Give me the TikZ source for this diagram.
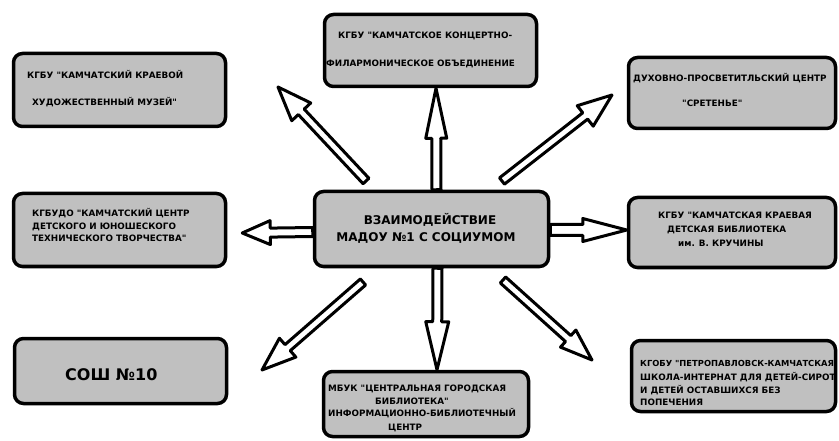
\documentclass[tikz,border=0pt]{standalone}
\usepackage{fontspec}
\newfontfamily\lsans{DejaVu Sans}
\usetikzlibrary{calc}
\definecolor{boxgray}{RGB}{192,192,192}
\tikzset{
  box/.style={draw=black, line width=3.5pt, fill=boxgray, rounded corners=9pt, inner sep=0pt},
  txt/.style={inner sep=0pt, anchor=west, text height=6.4pt, text depth=0pt, font=\lsans\bfseries\fontsize{8.8}{10}\selectfont},
  bigtxt/.style={inner sep=0pt, text height=8.8pt, text depth=0pt, font=\lsans\bfseries\fontsize{12}{14}\selectfont},
  hugetxt/.style={inner sep=0pt, anchor=west, text height=11.7pt, text depth=0pt, font=\lsans\bfseries\fontsize{16}{18}\selectfont},
  arrowline/.style={draw=black, fill=white, line width=3pt, line join=round},
}
% #1 shaft half width, #2 head half width, #3 head length, #4 from, #5 to
\newcommand\blockarrow[5]{%
  \draw[arrowline] let \p1=#4, \p2=#5, \n1={atan2(\y2-\y1,\x2-\x1)}, \n2={veclen(\x2-\x1,\y2-\y1)} in
    ($(\p1)+(\n1+90:#1)$) -- ($(\p1)+(\n1:\n2-#3)+(\n1+90:#1)$) -- ($(\p1)+(\n1:\n2-#3)+(\n1+90:#2)$)
    -- (\p2) -- ($(\p1)+(\n1:\n2-#3)+(\n1-90:#2)$) -- ($(\p1)+(\n1:\n2-#3)+(\n1-90:#1)$)
    -- ($(\p1)+(\n1-90:#1)$) -- cycle;
}
\begin{document}
\begin{tikzpicture}[x=1pt,y=1pt]
\fill[white] (0,0) rectangle (839,-441);
\useasboundingbox (0,0) rectangle (839,-441);

% boxes
\node[box, minimum width=212pt, minimum height=73pt] (b1) at (119.5,-90) {};
\node[box, minimum width=212pt, minimum height=72pt] (b2) at (430.5,-50.5) {};
\node[box, minimum width=207pt, minimum height=71pt] (b3) at (732,-93) {};
\node[box, minimum width=212pt, minimum height=73pt] (b4) at (119.5,-230) {};
\node[box, minimum width=234pt, minimum height=75pt] (c) at (431.5,-229) {};
\node[box, minimum width=207pt, minimum height=70pt] (b6) at (732,-232.5) {};
\node[box, minimum width=212pt, minimum height=65pt] (b5) at (120.5,-371) {};
\node[box, minimum width=205pt, minimum height=65pt] (b7) at (426,-404) {};
\node[box, minimum width=204pt, minimum height=71pt] (b8) at (733.5,-376) {};

% texts
\node[txt] (b1a) at (27,-75) {КГБУ "КАМЧАТСКИЙ КРАЕВОЙ};
\node[txt] (b1b) at (32,-102) {ХУДОЖЕСТВЕННЫЙ МУЗЕЙ"};

\node[txt] (b2a) at (338,-35) {КГБУ "КАМЧАТСКОЕ КОНЦЕРТНО-};
\node[txt] (b2b) at (326,-63) {ФИЛАРМОНИЧЕСКОЕ ОБЪЕДИНЕНИЕ};

\node[txt] (b3a) at (633,-78) {ДУХОВНО-ПРОСВЕТИТЛЬСКИЙ ЦЕНТР};
\node[txt] (b3b) at (682,-103) {"СРЕТЕНЬЕ"};

\node[txt] (b4a) at (32,-213) {КГБУДО "КАМЧАТСКИЙ ЦЕНТР};
\node[txt] (b4b) at (32,-226) {ДЕТСКОГО И ЮНОШЕСКОГО};
\node[txt] (b4c) at (32,-238.5) {ТЕХНИЧЕСКОГО ТВОРЧЕСТВА"};

\node[bigtxt] (ca) at (430,-220) {ВЗАИМОДЕЙСТВИЕ};
\node[bigtxt] (cb) at (426,-237.5) {МАДОУ №1 С СОЦИУМОМ};

\node[txt] (b6a) at (658,-215) {КГБУ "КАМЧАТСКАЯ КРАЕВАЯ};
\node[txt] (b6b) at (667,-229) {ДЕТСКАЯ БИБЛИОТЕКА};
\node[txt] (b6c) at (678,-243) {им. В. КРУЧИНЫ};

\node[hugetxt] (b5a) at (65,-375) {СОШ №10};

\node[txt] (b7a) at (328,-388) {МБУК "ЦЕНТРАЛЬНАЯ ГОРОДСКАЯ};
\node[txt] (b7b) at (375,-401) {БИБЛИОТЕКА"};
\node[txt] (b7c) at (328,-413.5) {ИНФОРМАЦИОННО-БИБЛИОТЕЧНЫЙ};
\node[txt] (b7d) at (388,-427) {ЦЕНТР};

\node[txt, font=\lsans\bfseries\fontsize{8.35}{10}\selectfont] (b8a) at (640,-363) {КГОБУ "ПЕТРОПАВЛОВСК-КАМЧАТСКАЯ};
\node[txt] (b8b) at (640,-377) {ШКОЛА-ИНТЕРНАТ ДЛЯ ДЕТЕЙ-СИРОТ};
\node[txt] (b8c) at (640,-390) {И ДЕТЕЙ ОСТАВШИХСЯ БЕЗ};
\node[txt] (b8d) at (640,-402.5) {ПОПЕЧЕНИЯ};

% free ends of the diagonal arrows
\coordinate (ult) at (366,-181);
\coordinate (ulh) at (278,-87);
\coordinate (urt) at (502,-181);
\coordinate (urh) at (612,-95);
\coordinate (llt) at (363,-282);
\coordinate (llh) at (262,-370);
\coordinate (lrt) at (503,-280);
\coordinate (lrh) at (592,-360);

% arrows
\blockarrow{4.5pt}{10.5pt}{50pt}{([xshift=5pt]c.north)}{([xshift=5.5pt]b2.south)}
\blockarrow{4.5pt}{11.5pt}{48pt}{([xshift=6pt]c.south)}{([xshift=11pt]b7.north)}
\blockarrow{5.5pt}{11.5pt}{44pt}{([yshift=-1pt]c.east)}{([yshift=2.5pt]b6.west)}
\blockarrow{4.5pt}{12pt}{28pt}{([yshift=-3pt]c.west)}{([xshift=15pt,yshift=-3pt]b4.east)}
\blockarrow{4pt}{13pt}{34pt}{(ult)}{(ulh)}
\blockarrow{4pt}{13pt}{34pt}{(urt)}{(urh)}
\blockarrow{4pt}{12.5pt}{34pt}{(llt)}{(llh)}
\blockarrow{4pt}{11.5pt}{32pt}{(lrt)}{(lrh)}
\end{tikzpicture}
\end{document}
